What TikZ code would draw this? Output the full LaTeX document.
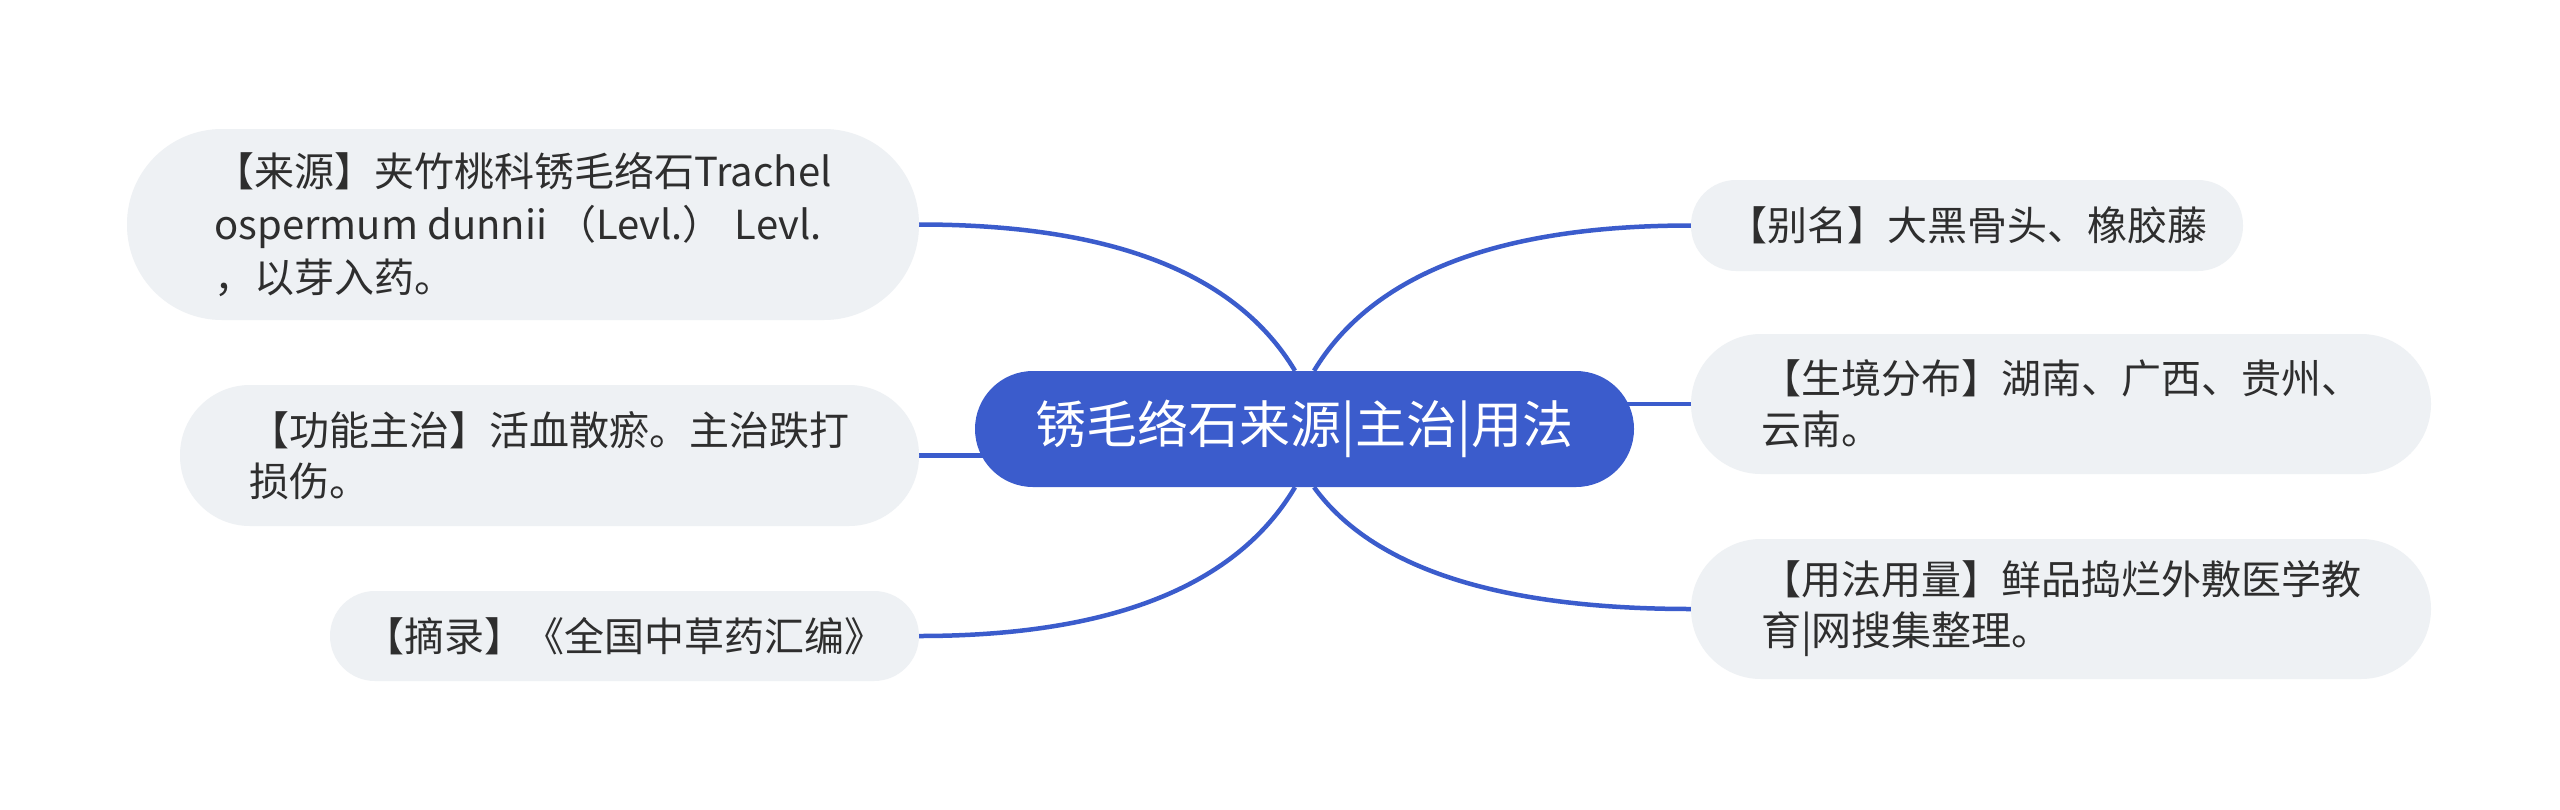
\documentclass[tikz,border=0pt]{standalone}
\usepackage{fontspec}
\setmainfont{Noto Sans CJK SC}
\usetikzlibrary{backgrounds}
\definecolor{mainblue}{HTML}{3B5CCC}
\definecolor{leafbg}{HTML}{EEF1F4}
\definecolor{txt}{HTML}{2E2E2E}
\begin{document}
\begin{tikzpicture}[x=1pt,y=-1pt,
  leaf/.style={fill=leafbg, text=txt, font=\fontsize{40}{51}\selectfont, align=left, inner sep=0pt},
  root/.style={fill=mainblue, text=white, font=\fontsize{51}{60}\selectfont, inner sep=0pt,
    rounded corners=58pt, minimum width=659pt, minimum height=116pt},
  conn/.style={draw=mainblue, line width=4.5pt}]
\useasboundingbox (0,0) rectangle (2560,809);

\node[root] (c) at (1304.5,429) {锈毛络石来源|主治|用法};

\node[leaf, minimum width=792pt, minimum height=191pt, rounded corners=95pt] (n1) at (523,224.5)
  {【来源】夹竹桃科锈毛络石Trachel\\[2pt]ospermum dunnii （Levl.） Levl.\\[2pt]，以芽入药。};
\node[leaf, minimum width=739pt, minimum height=141pt, rounded corners=70pt] (n2) at (549.5,455.5)
  {【功能主治】活血散瘀。主治跌打\\损伤。};
\node[leaf, minimum width=589pt, minimum height=90pt, rounded corners=45pt] (n3) at (624.5,636)
  {【摘录】《全国中草药汇编》};

\node[leaf, minimum width=552pt, minimum height=91pt, rounded corners=45pt] (r1) at (1967,225.5)
  {【别名】大黑骨头、橡胶藤};
\node[leaf, minimum width=740pt, minimum height=140pt, rounded corners=70pt] (r2) at (2061,404)
  {【生境分布】湖南、广西、贵州、\\云南。};
\node[leaf, minimum width=740pt, minimum height=140pt, rounded corners=70pt] (r3) at (2061,609)
  {【用法用量】鲜品捣烂外敷医学教\\育|网搜集整理。};

\begin{scope}[on background layer]
  \fill[white] (0,0) rectangle (2560,809);
  \draw[conn] ([xshift=-9.5pt]c.north) .. controls +(-58.7,-98) and +(192,0) .. (n1.east);
  \draw[conn] (n2.east) -- (n2.east -| c.center);
  \draw[conn] ([xshift=-9.5pt]c.south) .. controls +(-58.7,99) and +(192,0) .. (n3.east);
  \draw[conn] ([xshift=9.5pt]c.north) .. controls +(58.7,-97) and +(-192,0) .. (r1.west);
  \draw[conn] (r2.west) -- (r2.west -| c.center);
  \draw[conn] ([xshift=9.5pt]c.south) .. controls +(58.7,81) and +(-192,0) .. (r3.west);
\end{scope}
\end{tikzpicture}
\end{document}
